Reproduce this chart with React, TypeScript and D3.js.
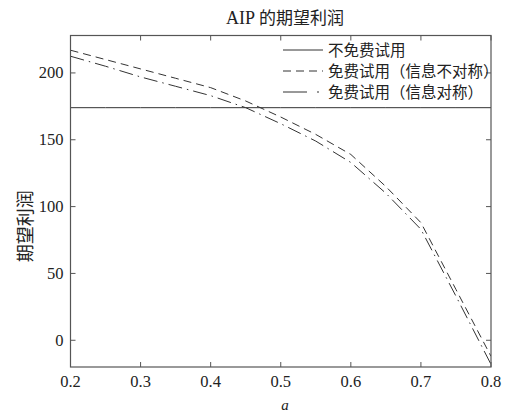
import React from "react";
import * as d3 from "d3";

const aValues = [0.2, 0.25, 0.3, 0.35, 0.4, 0.45, 0.5, 0.55, 0.6, 0.65, 0.7, 0.75, 0.8];
const noTrial = [174, 174, 174, 174, 174, 174, 174, 174, 174, 174, 174, 174, 174];
const trialAsym = [217, 210, 203, 196, 189, 179, 167, 154, 139, 115, 88, 38, -12];
const trialSym = [212.5, 205, 197, 190, 183, 174, 162, 149, 133, 110, 83, 33, -18];
const xTicks = [0.2, 0.3, 0.4, 0.5, 0.6, 0.7, 0.8];
const yTicks = [0, 50, 100, 150, 200];
const seriesNames = ["不免费试用", "免费试用（信息不对称）", "免费试用（信息对称）"];

const W = 517, H = 414;
const M = { left: 70.5, right: 491, top: 35.5, bottom: 367 };
const serif = "'Liberation Serif', 'DejaVu Serif', serif";
const cjk = "'Noto Sans CJK SC', sans-serif";

export default function App() {
  const x = d3.scaleLinear().domain([0.2, 0.8]).range([M.left, M.right]);
  const y = d3.scaleLinear().domain([-20, 228]).range([M.bottom, M.top]);
  const line = d3.line<number>().x((_, i) => x(aValues[i])).y((d) => y(d));
  const series = [
    { vals: noTrial, dash: "none" },
    { vals: trialAsym, dash: "8,5" },
    { vals: trialSym, dash: "14,5,1.5,5" },
  ];
  const axisColor = "#555";
  return (
    <svg width={W} height={H} style={{ position: "absolute", left: 0, top: 0, background: "#fff" }}>
      <text x={285} y={24} textAnchor="middle" fontSize={18} fontFamily={serif} fill="#222">
        <tspan fontFamily={serif}>AIP </tspan>
        <tspan fontFamily={cjk} fontSize={17}>的期望利润</tspan>
      </text>
      <defs>
        <clipPath id="clip">
          <rect x={M.left} y={M.top} width={M.right - M.left} height={M.bottom - M.top} />
        </clipPath>
      </defs>
      <g clipPath="url(#clip)">
        {series.map((s, i) => (
          <path key={i} d={line(s.vals) || ""} fill="none" stroke="#333" strokeWidth={1}
            strokeDasharray={s.dash} />
        ))}
      </g>
      <rect x={M.left} y={M.top} width={M.right - M.left} height={M.bottom - M.top}
        fill="none" stroke={axisColor} strokeWidth={1.2} />
      {xTicks.map((t) => (
        <g key={t}>
          <line x1={x(t)} x2={x(t)} y1={M.bottom} y2={M.bottom - 5} stroke={axisColor} />
          <line x1={x(t)} x2={x(t)} y1={M.top} y2={M.top + 5} stroke={axisColor} />
          <text x={x(t)} y={M.bottom + 20} textAnchor="middle" fontSize={16.5} fontFamily={serif} fill="#222">
            {t.toFixed(1)}
          </text>
        </g>
      ))}
      {yTicks.map((t) => (
        <g key={t}>
          <line x1={M.left} x2={M.left + 5} y1={y(t)} y2={y(t)} stroke={axisColor} />
          <line x1={M.right} x2={M.right - 5} y1={y(t)} y2={y(t)} stroke={axisColor} />
          <text x={M.left - 7} y={y(t) + 5.5} textAnchor="end" fontSize={16.5} fontFamily={serif} fill="#222">
            {t}
          </text>
        </g>
      ))}
      <text x={285} y={410} textAnchor="middle" fontSize={15} fontStyle="italic" fontFamily={serif} fill="#222">a</text>
      <text transform={`translate(32,${(M.top + M.bottom) / 2 + 25}) rotate(-90)`} textAnchor="middle"
        fontSize={18} fontFamily={cjk} fill="#222">期望利润</text>
      {series.map((s, i) => {
        const ly = 50 + i * 21;
        return (
          <g key={i}>
            <line x1={283} x2={323} y1={ly} y2={ly} stroke="#333" strokeWidth={1}
              strokeDasharray={i === 2 ? "24,10,2,6" : s.dash} />
            <text x={328} y={ly + 5.5} fontSize={15.5} fontFamily={cjk} fill="#222">{seriesNames[i]}</text>
          </g>
        );
      })}
    </svg>
  );
}
